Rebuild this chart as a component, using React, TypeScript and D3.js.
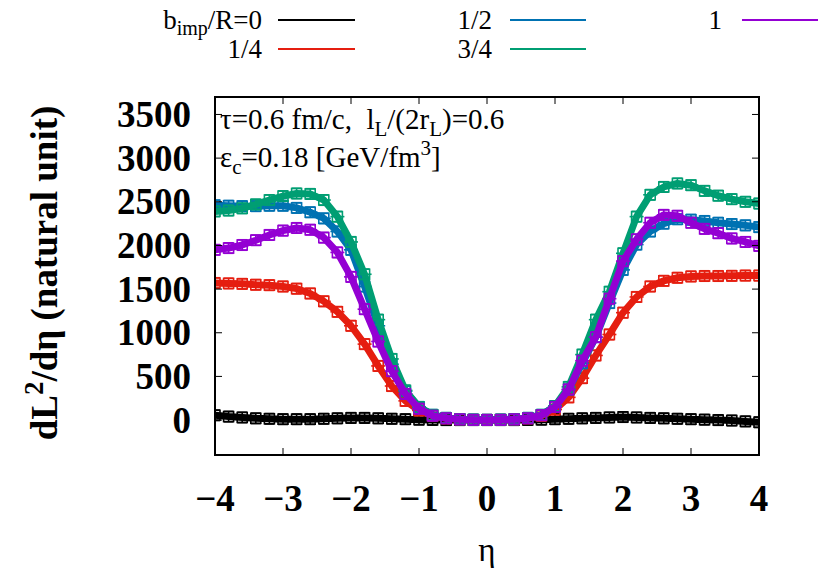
import React from 'react';
import * as d3 from 'd3';

// eta grid, step 0.2 from -4 to 4
const eta = [
  -4, -3.8, -3.6, -3.4, -3.2, -3, -2.8, -2.6, -2.4, -2.2, -2, -1.8, -1.6, -1.4, -1.2, -1, -0.8, -0.6, -0.4, -0.2,
  0, 0.2, 0.4, 0.6, 0.8, 1, 1.2, 1.4, 1.6, 1.8, 2, 2.2, 2.4, 2.6, 2.8, 3, 3.2, 3.4, 3.6, 3.8, 4,
];

const b0 = [
  55, 40, 30, 20, 15, 10, 10, 10, 15, 20, 25, 25, 20, 15, 10, 5, 2, 0, 0, 0,
  0, 0, 0, 2, 5, 10, 15, 20, 25, 30, 35, 30, 25, 20, 15, 10, 5, 0, -5, -15, -25,
];
const b14 = [
  1570, 1565, 1560, 1550, 1545, 1530, 1505, 1450, 1360, 1240, 1080, 870, 620, 390, 220, 110, 50, 20, 8, 3,
  2, 3, 8, 20, 50, 120, 260, 480, 740, 980, 1230, 1410, 1530, 1595, 1630, 1645, 1650, 1650, 1652, 1655, 1655,
];
const b12 = [
  2460, 2455, 2450, 2450, 2455, 2455, 2430, 2380, 2310, 2160, 1950, 1530, 1080, 640, 330, 150, 60, 25, 10, 5,
  3, 5, 10, 25, 60, 160, 350, 650, 950, 1340, 1720, 2010, 2160, 2250, 2300, 2295, 2280, 2260, 2245, 2230, 2210,
];
const b34 = [
  2390, 2400, 2425, 2470, 2520, 2565, 2595, 2590, 2520, 2330, 2040, 1670, 1150, 700, 340, 150, 60, 25, 10, 5,
  3, 5, 10, 25, 60, 160, 380, 750, 1150, 1470, 1910, 2330, 2580, 2670, 2710, 2690, 2625, 2570, 2530, 2500, 2480,
];
const b1 = [
  1950, 1970, 2005, 2060, 2120, 2170, 2200, 2180, 2090, 1920, 1640, 1270, 900, 560, 300, 130, 50, 20, 8, 3,
  2, 3, 8, 20, 55, 150, 350, 680, 950, 1390, 1820, 2070, 2260, 2350, 2340, 2260, 2190, 2140, 2080, 2040, 1995,
];

const seriesLabels = ['0', '1/4', '1/2', '3/4', '1'];
const seriesValues = [b0, b14, b12, b34, b1];
const seriesColors = ['#000000', '#e51e10', '#0072b2', '#009e73', '#9400d3'];

const xTicks = [-4, -3, -2, -1, 0, 1, 2, 3, 4];
const yTicks = [0, 500, 1000, 1500, 2000, 2500, 3000, 3500];

const W = 830;
const H = 581;
const plot = { left: 215, right: 759, top: 97, bottom: 455 };
const serif = 'Liberation Serif, DejaVu Serif, serif';

export default function App() {
  const x = d3.scaleLinear().domain([-4, 4]).range([plot.left, plot.right]);
  const y = d3.scaleLinear().domain([-400, 3700]).range([plot.bottom, plot.top]);

  const line = d3
    .line<number>()
    .x((_, i) => x(eta[i]))
    .y(d => y(d));

  const tickLen = 7;

  // legend slots: [textRightX, lineX1, lineX2, lineY]
  const legendPos = [
    [262, 278, 355, 20],
    [262, 278, 355, 49],
    [492, 510, 586, 20],
    [492, 510, 586, 49],
    [722, 742, 818, 20],
  ];

  return (
    <svg width={W} height={H} style={{ position: 'absolute', left: 0, top: 0, background: '#fff', fontFamily: serif }}>
      <defs>
        <clipPath id="plotclip">
          <rect x={plot.left} y={plot.top} width={plot.right - plot.left} height={plot.bottom - plot.top} />
        </clipPath>
      </defs>

      {/* series */}
      <g clipPath="url(#plotclip)">
        {seriesValues.map((vals, s) => (
          <g key={s} stroke={seriesColors[s]} fill="none">
            <path d={line(vals) || ''} strokeWidth={7} strokeLinejoin="round" />
            {vals.map((v, i) => {
              const cx = x(eta[i]);
              const cy = y(v);
              return (
                <g key={i} strokeWidth={1.6}>
                  <line x1={cx} x2={cx} y1={y(v + 60)} y2={y(v - 60)} />
                  <line x1={cx - 5} x2={cx + 5} y1={y(v + 60)} y2={y(v + 60)} />
                  <line x1={cx - 5} x2={cx + 5} y1={y(v - 60)} y2={y(v - 60)} />
                  <rect x={cx - 5} y={cy - 5} width={10} height={10} />
                  <line x1={cx - 7} x2={cx + 7} y1={cy} y2={cy} />
                </g>
              );
            })}
          </g>
        ))}
      </g>

      {/* ticks */}
      <g stroke="#000" strokeWidth={1}>
        {yTicks.map(t => (
          <g key={t}>
            <line x1={plot.left} x2={plot.left + tickLen} y1={y(t)} y2={y(t)} />
            <line x1={plot.right} x2={plot.right - tickLen} y1={y(t)} y2={y(t)} />
          </g>
        ))}
        {xTicks.map(t => (
          <g key={t}>
            <line x1={x(t)} x2={x(t)} y1={plot.bottom} y2={plot.bottom - tickLen} />
            <line x1={x(t)} x2={x(t)} y1={plot.top} y2={plot.top + tickLen} />
          </g>
        ))}
      </g>

      {/* frame */}
      <rect
        x={plot.left}
        y={plot.top}
        width={plot.right - plot.left}
        height={plot.bottom - plot.top}
        fill="none"
        stroke="#000"
        strokeWidth={2}
      />

      {/* tick labels */}
      <g style={{ fontFamily: serif }} fontWeight="bold" fontSize={37} fill="#000">
        {yTicks.map(t => (
          <text key={t} x={191} y={y(t) + 12.5} textAnchor="end">
            {t}
          </text>
        ))}
        {xTicks.map(t => (
          <text key={t} x={x(t)} y={511} textAnchor="middle">
            {t < 0 ? '\u2212' + Math.abs(t) : t}
          </text>
        ))}
      </g>

      {/* axis titles */}
      <text x={487} y={561} textAnchor="middle" style={{ fontFamily: serif }} fontSize={33}>
        η
      </text>
      <text
        transform="translate(57,273) rotate(-90)"
        textAnchor="middle"
        style={{ fontFamily: serif }}
        fontWeight="bold"
        fontSize={37}
      >
        dL
        <tspan dy={-14} fontSize={27}>2</tspan>
        <tspan dy={14}>/dη (natural unit)</tspan>
      </text>

      {/* annotation */}
      <g style={{ fontFamily: serif, whiteSpace: 'pre' }} fontSize={29} fill="#000">
        <text x={220} y={129}>
          {'τ=0.6 fm/c,\u00a0\u00a0l'}
          <tspan dy={7} fontSize={21}>L</tspan>
          <tspan dy={-7}>/(2r</tspan>
          <tspan dy={7} fontSize={21}>L</tspan>
          <tspan dy={-7}>)=0.6</tspan>
        </text>
        <text x={220} y={167}>
          ε<tspan dy={7} fontSize={21}>c</tspan>
          <tspan dy={-7}>=0.18 [GeV/fm</tspan>
          <tspan dy={-12} fontSize={21}>3</tspan>
          <tspan dy={12}>]</tspan>
        </text>
      </g>

      {/* legend */}
      <g style={{ fontFamily: serif }} fontSize={27} fill="#000">
        {seriesLabels.map((lab, s) => {
          const [tx, lx1, lx2, ly] = legendPos[s];
          return (
            <g key={s}>
              <text x={tx} y={ly + 9} textAnchor="end">
                {s === 0 ? (
                  <>
                    b<tspan dy={6} fontSize={20}>imp</tspan>
                    <tspan dy={-6}>/R=0</tspan>
                  </>
                ) : (
                  lab
                )}
              </text>
              <line x1={lx1} x2={lx2} y1={ly} y2={ly} stroke={seriesColors[s]} strokeWidth={2} />
            </g>
          );
        })}
      </g>
    </svg>
  );
}
